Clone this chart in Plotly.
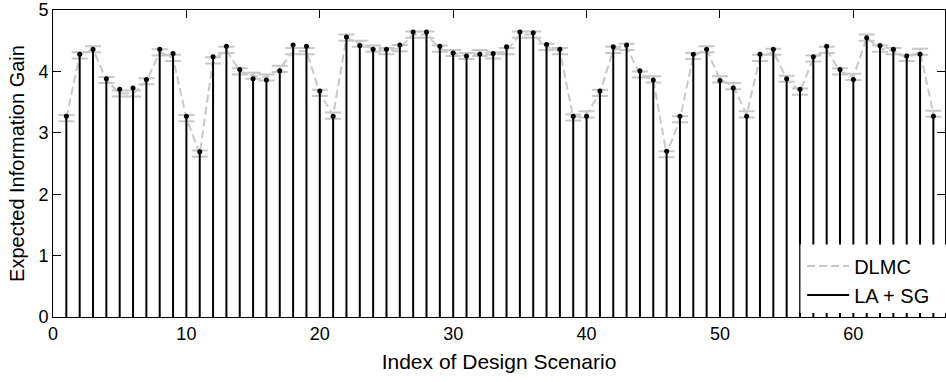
import plotly.graph_objects as go

scenario = list(range(1, 67))

la_sg = [3.27, 4.28, 4.36, 3.88, 3.71, 3.73, 3.87, 4.36, 4.29, 3.27,
         2.69, 4.24, 4.41, 4.03, 3.88, 3.86, 4.01, 4.43, 4.41, 3.68,
         3.27, 4.56, 4.42, 4.36, 4.36, 4.43, 4.64, 4.64, 4.41, 4.30,
         4.25, 4.28, 4.29, 4.40, 4.64, 4.63, 4.44, 4.36, 3.27, 3.27,
         3.68, 4.40, 4.43, 4.01, 3.86, 2.70, 3.27, 4.28, 4.36, 3.85,
         3.73, 3.27, 4.28, 4.36, 3.88, 3.71, 4.24, 4.41, 4.03, 3.87,
         4.55, 4.42, 4.36, 4.25, 4.28, 3.27]

dlmc = [3.24, 4.26, 4.36, 3.86, 3.64, 3.64, 3.84, 4.31, 4.22, 3.24,
        2.66, 4.18, 4.35, 4.00, 3.93, 3.90, 4.04, 4.33, 4.33, 3.65,
        3.28, 4.55, 4.45, 4.37, 4.33, 4.38, 4.60, 4.60, 4.37, 4.30,
        4.25, 4.30, 4.26, 4.33, 4.60, 4.60, 4.40, 4.33, 3.25, 3.30,
        3.65, 4.35, 4.40, 3.95, 3.87, 2.65, 3.22, 4.25, 4.36, 3.87,
        3.76, 3.30, 4.22, 4.32, 3.88, 3.67, 4.21, 4.35, 4.00, 3.91,
        4.55, 4.37, 4.33, 4.22, 4.32, 3.31]

dlmc_err = [0.05] * 66

x_ticks = [0, 10, 20, 30, 40, 50, 60]
y_ticks = [0, 1, 2, 3, 4, 5]

GRAY = "#c8c8c8"
FONT = "Liberation Sans, Arial, sans-serif"

# stems built from data
stem_x, stem_y = [], []
for xi, yi in zip(scenario, la_sg):
    stem_x += [xi, xi, None]
    stem_y += [0, yi, None]

fig = go.Figure()

fig.add_trace(go.Scatter(
    x=scenario, y=dlmc, mode="lines", name="DLMC",
    line=dict(color=GRAY, width=2, dash="8px,4px"),
    error_y=dict(type="data", array=dlmc_err, visible=True,
                 color=GRAY, thickness=2, width=8),
))

fig.add_trace(go.Scatter(
    x=stem_x, y=stem_y, mode="lines", name="LA + SG",
    line=dict(color="black", width=2),
))

fig.add_trace(go.Scatter(
    x=scenario, y=la_sg, mode="markers", showlegend=False,
    marker=dict(color="black", size=5, symbol="circle"),
))

W, H = 946, 382
L, T, B = 53, 8, 65
plot_w = W - L
plot_h = H - T - B

def px_to_paper_x(px):
    return (px - L) / plot_w

def px_to_paper_y(py):
    return (H - B - py) / plot_h

lx0 = px_to_paper_x(801)
ly0 = px_to_paper_y(313)
ly1 = px_to_paper_y(244)

fig.add_shape(type="rect", xref="paper", yref="paper",
              x0=lx0, x1=1.02, y0=ly0, y1=ly1,
              fillcolor="white", line=dict(width=0), layer="above")
fig.add_shape(type="line", xref="paper", yref="paper",
              x0=lx0, x1=lx0, y0=ly0, y1=ly1,
              line=dict(color="#707070", width=1), layer="above")

fig.update_layout(
    width=W, height=H,
    margin=dict(l=L, r=0, t=T, b=B),
    paper_bgcolor="white", plot_bgcolor="white",
    font=dict(family=FONT, size=18, color="black"),
    showlegend=True,
    legend=dict(x=px_to_paper_x(803), y=px_to_paper_y(246),
                xanchor="left", yanchor="top",
                bgcolor="rgba(0,0,0,0)", borderwidth=0,
                font=dict(size=20, family=FONT), itemwidth=42,
                tracegroupgap=0),
    xaxis=dict(range=[0, 66.87], tickvals=x_ticks, ticks="inside",
               ticklen=8, tickcolor="black", showline=True,
               linecolor="black", linewidth=1, mirror="ticks",
               showgrid=False, zeroline=False,
               ticklabeloverflow="allow",
               tickfont=dict(size=18),
               title=dict(text="Index of Design Scenario",
                          font=dict(size=21), standoff=11)),
    yaxis=dict(range=[0, 5], tickvals=y_ticks, ticks="inside",
               ticklen=8, tickcolor="black", showline=True,
               linecolor="black", linewidth=1, mirror="ticks",
               showgrid=False, zeroline=False,
               ticklabeloverflow="allow",
               tickfont=dict(size=18),
               title=dict(text="Expected Information Gain",
                          font=dict(size=20), standoff=8)),
)

fig.write_html("out.html")
